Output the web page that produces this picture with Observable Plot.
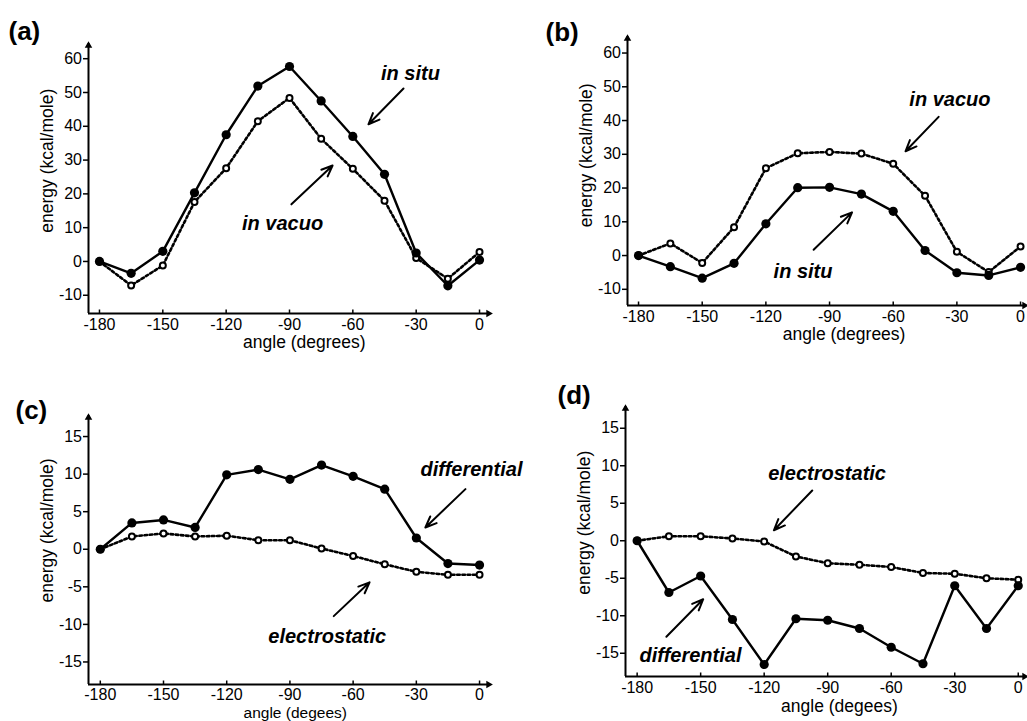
<!DOCTYPE html>
<html>
<head>
<meta charset="utf-8">
<script src="https://cdn.jsdelivr.net/npm/d3@7"></script>
<script src="https://cdn.jsdelivr.net/npm/@observablehq/plot@0.6"></script>
<style>
  html, body { margin: 0; padding: 0; background: white; }
  #fig { position: relative; width: 1027px; height: 721px; overflow: hidden; }
  #fig > div { position: absolute; }
  #fig svg { overflow: visible; max-width: none; }
</style>
</head>
<body>
<div id="fig"></div>
<script>
// ---- data ----
const angles = [-180, -165, -150, -135, -120, -105, -90, -75, -60, -45, -30, -15, 0];
const xTicks = [-180, -150, -120, -90, -60, -30, 0];
const yTicksAB = [-10, 0, 10, 20, 30, 40, 50, 60];
const yTicksCD = [-15, -10, -5, 0, 5, 10, 15];

// (a)
const aInSitu  = [0, -3.5, 3, 20.3, 37.5, 51.9, 57.7, 47.5, 37, 25.8, 2.5, -7.2, 0.4];
const aInVacuo = [0, -7.1, -1.2, 17.6, 27.6, 41.5, 48.4, 36.3, 27.4, 18, 1, -5.1, 2.8];
// (b)
const bInSitu  = [0, -3.3, -6.7, -2.3, 9.4, 20.1, 20.2, 18.2, 13.1, 1.5, -5.1, -5.9, -3.5];
const bInVacuo = [0, 3.6, -2.2, 8.4, 25.9, 30.3, 30.7, 30.2, 27.2, 17.7, 1.1, -4.9, 2.7];
// (c)
const cDifferential  = [0, 3.5, 3.9, 2.9, 9.9, 10.6, 9.3, 11.2, 9.7, 8.0, 1.5, -1.9, -2.1];
const cElectrostatic = [0, 1.7, 2.1, 1.7, 1.8, 1.2, 1.2, 0.1, -0.9, -2.0, -3.0, -3.4, -3.4];
// (d)
const dDifferential  = [0, -6.9, -4.7, -10.5, -16.5, -10.4, -10.6, -11.7, -14.2, -16.4, -6.0, -11.7, -6.0];
const dElectrostatic = [0, 0.6, 0.6, 0.3, -0.1, -2.1, -3.0, -3.2, -3.5, -4.3, -4.4, -5.0, -5.2];

// annotations (data units)
const aLabels = [{x: -32.7, y: 55.7, t: "in situ"}, {x: -93.3, y: 11.2, t: "in vacuo"}];
const aArrows = [{x1: -36, y1: 51.2, x2: -52.6, y2: 40.6}, {x1: -89.1, y1: 16.9, x2: -69.6, y2: 28.4}];
const bLabels = [{x: -33.3, y: 46.2, t: "in vacuo"}, {x: -102.5, y: -4.9, t: "in situ"}];
const bArrows = [{x1: -38.6, y1: 41.1, x2: -54.2, y2: 30.9}, {x1: -97.5, y1: 1.7, x2: -79.4, y2: 12.8}];
const cLabels = [{x: -3.8, y: 10.6, t: "differential"}, {x: -72.3, y: -11.6, t: "electrostatic"}];
const cArrows = [{x1: -6.7, y1: 8.0, x2: -25.7, y2: 2.9}, {x1: -69.2, y1: -8.9, x2: -52.2, y2: -4.4}];
const dLabels = [{x: -90.3, y: 8.9, t: "electrostatic"}, {x: -154.8, y: -15.3, t: "differential"}];
const dArrows = [{x1: -97.3, y1: 6.7, x2: -115.4, y2: 1.4}, {x1: -166.2, y1: -12.8, x2: -148.8, y2: -7.8}];

const panels = [
  {id: "(a)", left: 0, top: 0, width: 510, height: 360, ml: 88, mr: 20, mt: 43, mb: 47,
   xd: [-185.2, 5.2], yd: [-15.4, 64.5], yTicks: yTicksAB, tickPad: 5.6,
   solid: aInSitu, dotted: aInVacuo, labels: aLabels, arrows: aArrows,
   xlabel: "angle (degrees)", xlabelDy: 34.5, xlabelSize: 17.5, ylabelY: 29.8, tag: {dx: -80, dy: -4}},
  {id: "(b)", left: 510, top: 0, width: 517, height: 360, ml: 117, mr: 1, mt: 36, mb: 55,
   xd: [-185.2, 2.8], yd: [-14.8, 64.9], yTicks: yTicksAB, tickPad: 5.6,
   solid: bInSitu, dotted: bInVacuo, labels: bLabels, arrows: bArrows,
   xlabel: "angle (degrees)", xlabelDy: 34.5, xlabelSize: 17.5, ylabelY: 29.7, tag: {dx: -82, dy: 4}},
  {id: "(c)", left: 0, top: 360, width: 510, height: 361, ml: 88, mr: 20, mt: 55, mb: 37,
   xd: [-185.6, 5.2], yd: [-18.0, 17.8], yTicks: yTicksCD, tickPad: 4,
   solid: cDifferential, dotted: cElectrostatic, labels: cLabels, arrows: cArrows,
   xlabel: "angle (degees)", xlabelDy: 33, xlabelSize: 15.5, ylabelY: 2.5, tag: {dx: -73, dy: 3}},
  {id: "(d)", left: 510, top: 360, width: 517, height: 361, ml: 115, mr: 1, mt: 46, mb: 45,
   xd: [-185.5, 3.9], yd: [-18.1, 17.9], yTicks: yTicksCD, tickPad: 5.6,
   solid: dDifferential, dotted: dElectrostatic, labels: dLabels, arrows: dArrows,
   xlabel: "angle (degees)", xlabelDy: 35, xlabelSize: 17.5, ylabelY: 2.4, tag: {dx: -68, dy: -3}}
];

const FONT = "'Liberation Sans', Arial, Helvetica, sans-serif";
const fig = document.getElementById("fig");
const fmt = d => String(d);

for (const p of panels) {
  const solidData = angles.map((a, i) => ({x: a, y: p.solid[i]}));
  const dottedData = angles.map((a, i) => ({x: a, y: p.dotted[i]}));
  const [x0, x1] = p.xd, [y0, y1] = p.yd;
  const ppu = (p.height - p.mt - p.mb) / (y1 - y0);

  const chart = Plot.plot({
    width: p.width, height: p.height,
    marginLeft: p.ml, marginRight: p.mr, marginTop: p.mt, marginBottom: p.mb,
    x: {domain: p.xd},
    y: {domain: p.yd},
    style: {fontFamily: FONT, fontSize: "16px", background: "none", overflow: "visible", color: "black"},
    marks: [
      Plot.axisY({ticks: p.yTicks, tickFormat: fmt, tickSize: 5, tickPadding: 1.5, label: null, strokeWidth: 1.5, fontSize: 16}),
      Plot.axisX({ticks: xTicks, tickFormat: fmt, tickSize: 0, tickPadding: p.tickPad, label: null, fontSize: 16}),
      Plot.ruleX(xTicks, {y1: y0, y2: y0 + 3.5 / ppu, strokeWidth: 1.5}),
      Plot.ruleX([x0], {y1: y0, y2: y1, strokeWidth: 2}),
      Plot.ruleY([y0], {x1: x0, x2: x1, strokeWidth: 2}),
      Plot.dot([{x: x0, y: y1}], {x: "x", y: "y", symbol: "triangle", r: 2.8, fill: "black", dy: 2}),
      Plot.dot([{x: x1, y: y0}], {x: "x", y: "y", symbol: "triangle", r: 2.8, fill: "black", rotate: 90, dx: -2}),
      Plot.line(dottedData, {x: "x", y: "y", stroke: "black", strokeWidth: 2.6, strokeDasharray: "2.6,2.6"}),
      Plot.line(solidData, {x: "x", y: "y", stroke: "black", strokeWidth: 2.4}),
      Plot.dot(dottedData, {x: "x", y: "y", r: 3, fill: "white", stroke: "black", strokeWidth: 2}),
      Plot.dot(solidData, {x: "x", y: "y", r: 4.6, fill: "black"}),
      Plot.arrow(p.arrows, {x1: "x1", y1: "y1", x2: "x2", y2: "y2", stroke: "black", strokeWidth: 2, headLength: 9, headAngle: 45}),
      Plot.text(p.labels, {x: "x", y: "y", text: "t", fontSize: 20, fontWeight: "bold", fontStyle: "italic", fill: "black"}),
      Plot.text([p.xlabel], {x: () => -112, text: d => d, frameAnchor: "bottom", textAnchor: "start", lineAnchor: "bottom", dy: p.xlabelDy, fontSize: p.xlabelSize, fill: "black"}),
      Plot.text(["energy (kcal/mole)"], {y: () => p.ylabelY, text: d => d, frameAnchor: "left", textAnchor: "middle", lineAnchor: "middle", dx: -41, rotate: -90, fontSize: 17.5, fill: "black"}),
      Plot.text([p.id], {text: d => d, frameAnchor: "top-left", textAnchor: "start", lineAnchor: "bottom", dx: p.tag.dx, dy: p.tag.dy, fontSize: 26, fontWeight: "bold", fill: "black"})
    ]
  });
  chart.querySelectorAll('g[aria-label$="tick label"]').forEach(g => {
    g.setAttribute("font-size", "16");
    g.style.fontSize = "16px";
  });
  const holder = document.createElement("div");
  holder.style.left = p.left + "px";
  holder.style.top = p.top + "px";
  holder.appendChild(chart);
  fig.appendChild(holder);
}
</script>
</body>
</html>
